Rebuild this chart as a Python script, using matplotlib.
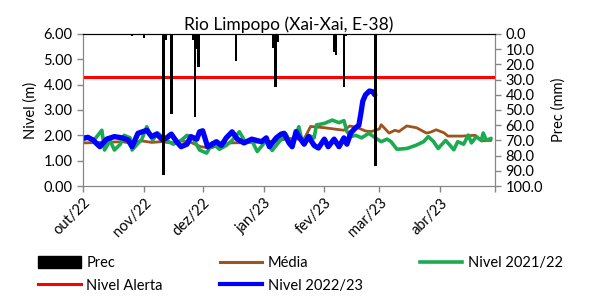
from datetime import datetime, timedelta
import matplotlib
matplotlib.use('Agg')
import matplotlib.pyplot as plt
from matplotlib.patches import Patch
from matplotlib.lines import Line2D

plt.rcParams['font.family'] = ['Lato', 'DejaVu Sans']

inicio = datetime(2022, 10, 1)

# Precipitacao (mm), dias desde 1 out 2022
prec_dias = [25, 31, 41, 42, 45, 56, 57, 58, 59, 78, 97, 98, 99, 128, 129, 133, 134, 149]
prec_mm = [1.5, 2.5, 93.0, 4.0, 52.6, 4.0, 54.6, 10.0, 22.0, 18.0, 9.0, 35.0, 5.0, 12.0, 13.6, 35.0, 1.0, 86.6]

# Media historica
media_dias = [0, 10, 20, 25, 30, 35, 40, 45, 50, 55, 60, 65, 70, 75, 85, 95, 100, 105, 110, 113,
              116, 123, 128, 133, 136, 140, 144, 147, 151, 152, 156, 159, 161, 165, 170, 175, 177,
              180, 184, 186, 193, 200, 203, 208]
media_nivel = [1.70, 1.72, 1.75, 1.68, 1.78, 1.72, 1.75, 1.70, 1.78, 1.72, 1.55, 1.50, 1.62, 1.70,
               1.72, 1.75, 1.80, 1.88, 1.85, 1.90, 2.35, 2.30, 2.25, 2.20, 2.37, 2.30, 2.17, 2.15,
               2.25, 2.42, 2.09, 2.20, 2.15, 2.37, 2.30, 2.09, 2.12, 2.22, 2.10, 1.97, 1.97, 2.00,
               1.78, 1.80]

# Nivel 2021/22
n2122_dias = [0, 2.5, 5, 9.6, 11, 13.7, 16, 19, 21, 24, 25, 30, 32.5, 35.5, 38, 41.6, 46, 50, 53,
              56, 59.4, 63, 66, 69.5, 73, 76, 79.7, 83, 86, 88.8, 93.4, 96.4, 100, 103.5, 106.6,
              110, 111.7, 115, 117.8, 119, 123, 127, 130.5, 133, 134.5, 136.5, 139, 142, 145.7,
              149, 152, 155, 157, 160, 165, 169.5, 173.6, 176, 178.7, 181, 184.8, 186, 189, 191,
              194, 196.4, 198, 200.5, 203, 204, 205.6, 208]
n2122_nivel = [1.80, 1.95, 1.75, 2.20, 1.42, 1.80, 1.42, 1.65, 2.00, 1.90, 1.42, 1.85, 2.34, 1.80,
               2.10, 1.85, 1.65, 1.80, 2.00, 1.90, 1.42, 1.30, 1.70, 1.45, 1.60, 1.80, 2.14, 1.70,
               1.80, 1.36, 1.80, 1.40, 1.75, 2.05, 1.55, 2.34, 1.75, 2.00, 1.90, 2.41, 2.47, 2.60,
               2.50, 2.58, 2.15, 1.95, 2.00, 1.90, 2.08, 1.90, 1.75, 1.85, 1.75, 1.45, 1.48, 1.60,
               1.75, 1.95, 1.75, 1.48, 1.80, 1.70, 1.43, 1.75, 1.65, 2.01, 1.70, 1.95, 1.80, 2.09,
               1.80, 1.88]

# Nivel 2022/23
n2223_dias = [0, 2.5, 5, 8.6, 12, 16, 20, 23, 25, 28, 32.5, 35, 37.5, 40.6, 42.6, 45, 47.7, 50,
              53, 55, 58, 59.4, 61, 63.5, 68, 70.5, 73, 76, 78.7, 82, 86, 91, 93.4, 95, 98.5, 101,
              102.5, 105, 106.6, 108.6, 110, 112.7, 115, 117.8, 120, 123, 125, 128, 130.5, 133,
              134.5, 136.5, 139, 140.6, 141.6, 142.6, 144, 146, 147.7, 148.7]
n2223_nivel = [1.89, 1.92, 1.82, 1.55, 1.85, 1.95, 1.90, 1.82, 1.55, 2.08, 2.20, 1.95, 2.05, 1.82,
               1.90, 2.05, 1.75, 1.55, 1.65, 1.95, 1.85, 2.14, 2.18, 1.55, 1.75, 1.60, 1.90, 2.14,
               1.85, 1.70, 1.85, 1.75, 1.90, 1.55, 1.90, 2.05, 2.08, 1.70, 1.55, 2.15, 1.95, 1.65,
               1.95, 1.60, 1.50, 1.85, 1.55, 1.85, 1.55, 1.90, 1.65, 2.10, 2.30, 2.40, 2.85, 3.35,
               3.60, 3.75, 3.72, 3.60]

nivel_alerta = 4.30

meses = ['out/22', 'nov/22', 'dez/22', 'jan/23', 'fev/23', 'mar/23', 'abr/23']


def datas(dias):
    return [inicio + timedelta(days=d) for d in dias]


fig = plt.figure(figsize=(5.9, 3.0), dpi=100)
ax = fig.add_axes([0.1407, 0.38, 0.6983, 0.5067])
ax2 = ax.twinx()

fim = inicio + timedelta(days=210)

estilo = dict(solid_joinstyle='round', solid_capstyle='round')
ax.plot(datas(media_dias), media_nivel, color='#A0521C', lw=2.0, zorder=3, **estilo)
ax.plot(datas(n2122_dias), n2122_nivel, color='#1AAA50', lw=2.6, zorder=4, **estilo)
ax.plot([inicio, fim], [nivel_alerta, nivel_alerta], color='#FF0000', lw=2.2, zorder=5)
ax.plot(datas(n2223_dias), n2223_nivel, color='#0000FF', lw=3.8, zorder=6, **estilo)

ax2.bar(datas(prec_dias), prec_mm, width=1.3, color='black', align='center')
ax2.set_ylim(100, 0)
ax2.set_yticks(range(0, 101, 10))
ax2.yaxis.set_major_formatter(plt.FormatStrFormatter('%.1f'))

ax.set_ylim(0, 6)
ax.set_yticks(range(0, 7))
ax.yaxis.set_major_formatter(plt.FormatStrFormatter('%.2f'))
ax.set_xlim(inicio, fim)

ticks = [datetime(2022, 10, 1), datetime(2022, 11, 1), datetime(2022, 12, 1), datetime(2023, 1, 1),
         datetime(2023, 2, 1), datetime(2023, 3, 1), datetime(2023, 4, 1), fim]
ax.set_xticks(ticks)
ax.set_xticklabels(meses + [''], rotation=45, ha='right', rotation_mode='anchor')

cinza = '#868686'
for a in (ax, ax2):
    for lado in ('left', 'right', 'bottom'):
        a.spines[lado].set_color(cinza)
    a.spines['top'].set_color('black')
    a.tick_params(colors=cinza, labelcolor='black', labelsize=10.5, length=4, width=1)
ax.tick_params(axis='x', pad=3)

ax.set_ylabel('Nivel (m)', fontsize=10.5, labelpad=4)
ax2.set_ylabel('Prec (mm)', fontsize=10.5, labelpad=6)
ax.set_title('Rio Limpopo (Xai-Xai, E-38)', fontsize=12.5, pad=3)

handles = [Patch(color='black'),
           Line2D([], [], color='#FF0000', lw=2.2),
           Line2D([], [], color='#A0521C', lw=2.2),
           Line2D([], [], color='#0000FF', lw=3.0),
           Line2D([], [], color='#1AAA50', lw=2.6)]
labels = ['Prec', 'Nivel Alerta', 'Média', 'Nivel 2022/23', 'Nivel 2021/22']
fig.legend(handles, labels, ncol=3, loc='upper left', bbox_to_anchor=(0.055, 0.165),
           frameon=False, fontsize=10.5, handlelength=2.9, handleheight=0.9,
           columnspacing=3.9, handletextpad=0.4, labelspacing=0.55, borderaxespad=0)

fig.savefig('out.png', dpi=100)
